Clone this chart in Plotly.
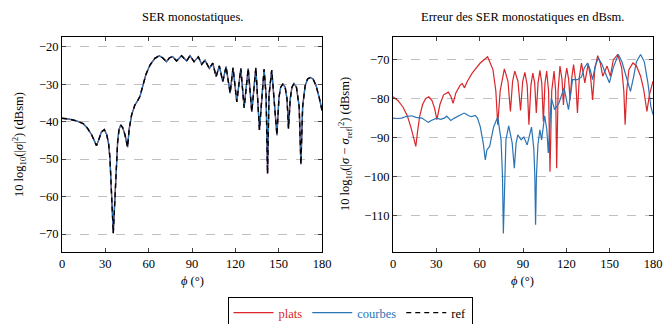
import plotly.graph_objects as go

# ---------------- data: left panel (SER monostatiques) ----------------
phi_left = [0, 5, 10, 14.6, 17.5, 20.5, 22.5, 23.9, 25.3, 27.2, 29.3, 31.0, 32.3, 33.2, 35.5,
            37.7, 38.5, 39.5, 40.7, 42.0, 43.6, 45.4, 46.5, 48.2, 50.4, 52.5, 53.9, 55.2, 56.2,
            58.1, 60.9, 64.3, 67.3, 69.8, 72.3, 74.3, 76.5, 79.3, 82.8, 86.3, 88.6, 91.4, 94.4,
            96.7, 99.0, 102.0, 104.4, 106.7, 108.9, 111.3, 113.6, 116.4, 118.4, 121.0, 123.8,
            126.1, 128.9, 131.4, 134.2, 136.7, 139.9, 141.3, 142.3, 143.3, 145.2, 148.8, 150.2,
            151.4, 152.9, 154.5, 155.8, 156.8, 158.0, 159.2, 160.6, 162.3, 164.2, 165.4, 166.6,
            168.3, 170.0, 171.9, 173.8, 176.0, 178.2, 180]
ser_ref = [-39.1, -39.3, -39.8, -40.5, -41.7, -43.5, -45.2, -46.4, -45.0, -42.8, -42.1, -43.5,
           -46.0, -49.8, -69.8, -50.2, -45.5, -42.0, -40.9, -41.6, -43.5, -46.8, -42.0, -38.2,
           -35.6, -34.3, -33.3, -31.5, -30.2, -27.4, -24.9, -23.1, -22.4, -23.0, -24.0, -23.0,
           -22.6, -23.8, -22.4, -23.8, -22.4, -24.0, -22.7, -24.7, -23.6, -25.8, -24.4, -28.0,
           -25.1, -29.3, -25.3, -32.4, -25.6, -34.7, -25.8, -36.3, -25.8, -37.4, -25.6, -42.2,
           -26.0, -33.0, -53.9, -33.0, -26.2, -43.6, -33.5, -30.8, -30.0, -30.8, -34.0, -41.8,
           -34.0, -30.8, -29.8, -30.8, -36.0, -51.4, -36.0, -30.5, -28.6, -28.2, -28.6, -30.5,
           -33.8, -37.0]
ser_plats = list(ser_ref)
ser_courbes = list(ser_ref)

# ---------------- data: right panel (erreur) ----------------
phi_err_plats = [0, 3.5, 7, 10, 12.5, 14.5, 15.8, 17, 18.5, 20.5, 22.5, 24.8, 27, 28.8, 30.4,
                 32.5, 35, 38.3, 40.2, 41.6, 43.5, 46.5, 47.9, 49.5, 51.5, 54.8, 58.3, 60.4,
                 65.5, 69.2, 71.2, 72.5, 74.2, 77.1, 79.6, 81.3, 82.8, 84.3, 86.5, 88.3, 89.8,
                 91.3, 92.9, 94.1, 95.5, 96.8, 98.1, 99.2, 100.4, 101.7, 103.0, 104.1, 105.2,
                 106.4, 107.7, 108.7, 109.9, 111.5, 112.6, 113.3, 114.3, 115.6, 117.0, 118.0,
                 119.1, 120.3, 121.6, 122.6, 123.8, 125.0, 126.5, 127.7, 129.0, 130.5, 132.8,
                 135.1, 136.8, 138.2, 139.7, 141.7, 143.5, 145.2, 148.2, 150.5, 152.5, 155.6,
                 158.3, 159.8, 160.7, 161.8, 163.3, 166.1, 168.5, 171.4, 173.5, 175.8, 177.5, 180]
err_plats = [-79.5, -80.5, -82.2, -84.5, -87.5, -90.0, -92.3, -88.5, -84.5, -81.5, -80.0, -79.5,
             -80.5, -82.5, -85.4, -81.5, -79.0, -78.3, -79.5, -81.2, -78.5, -76.5, -76.1, -77.2,
             -75.5, -73.4, -71.6, -70.8, -69.2, -72.5, -78.0, -86.7, -78.0, -72.3, -75.5, -83.3,
             -75.5, -72.9, -75.5, -83.0, -75.5, -73.2, -76.5, -86.7, -76.5, -73.4, -76.0, -83.7,
             -76.0, -72.7, -76.0, -85.9, -76.0, -72.9, -78.0, -98.8, -78.0, -72.9, -78.0, -97.9,
             -78.0, -71.6, -75.0, -81.6, -75.0, -72.1, -75.0, -80.3, -74.5, -71.2, -75.5, -83.7,
             -74.5, -70.8, -75.9, -71.0, -74.5, -80.3, -72.5, -68.9, -70.8, -74.2, -71.6, -74.2,
             -70.0, -68.6, -72.0, -78.0, -86.7, -78.0, -72.5, -70.8, -71.5, -74.2, -77.5, -83.3,
             -79.0, -75.5]

phi_err_courbes = [0, 3, 6, 9, 12.8, 16, 20, 22.5, 24.4, 26.5, 30.2, 33, 35.5, 37.2, 38.8, 40,
                   42.5, 45.3, 47.5, 49.2, 50.8, 52.3, 54.5, 56.9, 58.5, 60.4, 62.5, 63.9, 65,
                   66.9, 69.7, 72.5, 74.8, 75.8, 76.4, 77.2, 78.2, 80.1, 82.5, 84.0, 85.2, 86.4,
                   88.7, 90.6, 92.9, 95.9, 97.5, 98.2, 98.7, 99.3, 100.3, 101.7, 102.9, 105.0,
                   106.5, 107.5, 108.5, 109.6, 111.9, 114.9, 118.4, 121.5, 124.3, 127.7, 130.5,
                   132.5, 134.7, 136.5, 138.2, 140.0, 142.1, 144.5, 146.8, 149.8, 152.5, 156.0,
                   158.5, 161.5, 164.4, 166.5, 168.5, 171.4, 174.0, 176.5, 178.5, 180]
err_courbes = [-85.0, -85.1, -85.0, -84.6, -84.4, -84.8, -85.0, -85.6, -86.1, -85.6, -85.0,
               -85.3, -85.0, -84.5, -85.0, -85.6, -85.0, -84.5, -84.0, -83.7, -84.0, -84.4,
               -84.6, -84.3, -85.0, -87.2, -91.5, -95.8, -93.2, -92.3, -87.2, -84.7, -90.6,
               -100.0, -114.7, -100.0, -90.5, -87.0, -91.4, -97.9, -91.5, -89.3, -90.6, -89.9,
               -91.9, -87.3, -93.0, -100.0, -112.5, -100.0, -92.0, -88.0, -90.6, -84.4, -88.0,
               -94.0, -86.0, -79.8, -82.8, -81.1, -77.2, -82.8, -75.1, -75.1, -74.4, -72.0,
               -70.8, -72.5, -75.1, -71.5, -69.5, -71.0, -73.2, -75.9, -72.0, -68.6, -70.5,
               -74.5, -78.1, -74.5, -70.5, -68.6, -70.5, -76.0, -82.0, -84.1]

x_ticks = [0, 30, 60, 90, 120, 150, 180]
left_y_ticks = [-70, -60, -50, -40, -30, -20]
right_y_ticks = [-110, -100, -90, -80, -70]

RED = "#d9262b"
BLUE = "#2a74b5"
FONT = "Liberation Serif"
W, H = 663, 324

fig = go.Figure()

fig.add_trace(go.Scatter(x=phi_left, y=ser_plats, mode="lines", xaxis="x", yaxis="y",
                         line=dict(color=RED, width=1.3), legendgroup="plats",
                         name=f'<span style="color:{RED}">plats</span>'))
fig.add_trace(go.Scatter(x=phi_left, y=ser_courbes, mode="lines", xaxis="x", yaxis="y",
                         line=dict(color=BLUE, width=1.3), legendgroup="courbes",
                         name=f'<span style="color:{BLUE}">courbes</span>'))
fig.add_trace(go.Scatter(x=phi_left, y=ser_ref, mode="lines", xaxis="x", yaxis="y",
                         line=dict(color="black", width=1.4, dash="5px,4px"), legendgroup="ref",
                         name="ref"))
fig.add_trace(go.Scatter(x=phi_err_plats, y=err_plats, mode="lines", xaxis="x2", yaxis="y2",
                         line=dict(color=RED, width=1.2), legendgroup="plats", showlegend=False))
fig.add_trace(go.Scatter(x=phi_err_courbes, y=err_courbes, mode="lines", xaxis="x2", yaxis="y2",
                         line=dict(color=BLUE, width=1.2), legendgroup="courbes", showlegend=False))

y0, y1 = (H - 252) / H, (H - 37) / H
common_x = dict(range=[0, 180], tickvals=x_ticks, ticks="inside", ticklen=4, tickcolor="#444",
                showline=True, linecolor="black", linewidth=1, mirror="allticks",
                showgrid=False, zeroline=False, automargin=False,
                tickfont=dict(family=FONT, size=12.5, color="black"))
common_y = dict(ticks="inside", ticklen=4, tickcolor="#444", showline=True, linecolor="black",
                linewidth=1, mirror="allticks", showgrid=True, gridcolor="#c0c0c0",
                griddash="dash", gridwidth=1, zeroline=False, automargin=False,
                tickfont=dict(family=FONT, size=12.5, color="black"))

fig.update_layout(
    width=W, height=H,
    margin=dict(l=0, r=0, t=0, b=0, autoexpand=False),
    paper_bgcolor="white", plot_bgcolor="white",
    font=dict(family=FONT, size=12, color="black"),
    xaxis=dict(domain=[62 / W, 322 / W], anchor="y", **common_x),
    yaxis=dict(domain=[y0, y1], anchor="x", range=[-74.8, -17.4], tickvals=left_y_ticks, **common_y),
    xaxis2=dict(domain=[393 / W, 653 / W], anchor="y2", **common_x),
    yaxis2=dict(domain=[y0, y1], anchor="x2", range=[-119.5, -64.1], tickvals=right_y_ticks, **common_y),
    showlegend=True,
    legend=dict(orientation="h", x=350 / W, xanchor="center", y=(H - 297) / H, yanchor="top",
                bordercolor="black", borderwidth=1, bgcolor="white",
                font=dict(family=FONT, size=12.5, color="black"),
                itemwidth=40, tracegroupgap=0, traceorder="normal"),
)

ann = [
    dict(text="SER monostatiques.", x=192 / W, y=(H - 17) / H, font=dict(size=12.5)),
    dict(text="Erreur des SER monostatiques en dBsm.", x=522 / W, y=(H - 17) / H, font=dict(size=12.5)),
    dict(text="<i>ϕ</i> (°)", x=192 / W, y=(H - 281) / H, font=dict(size=12.5)),
    dict(text="<i>ϕ</i> (°)", x=522 / W, y=(H - 281) / H, font=dict(size=12.5)),
    dict(text="10 log<sub>10</sub>(|<i>σ</i>|<sup>2</sup>) (dBsm)", x=19 / W, y=(H - 145) / H,
         textangle=-90, font=dict(size=12.5)),
    dict(text="10 log<sub>10</sub>(|<i>σ</i> − <i>σ</i><sub>ref</sub>|<sup>2</sup>) (dBsm)",
         x=345 / W, y=(H - 144) / H, textangle=-90, font=dict(size=12.5)),
]
for a in ann:
    fig.add_annotation(xref="paper", yref="paper", showarrow=False, xanchor="center",
                       yanchor="middle", font_family=FONT, font_color="black", **a)

fig.write_html("out.html", config={"displayModeBar": False},
               post_script="document.body.style.margin='0';")
